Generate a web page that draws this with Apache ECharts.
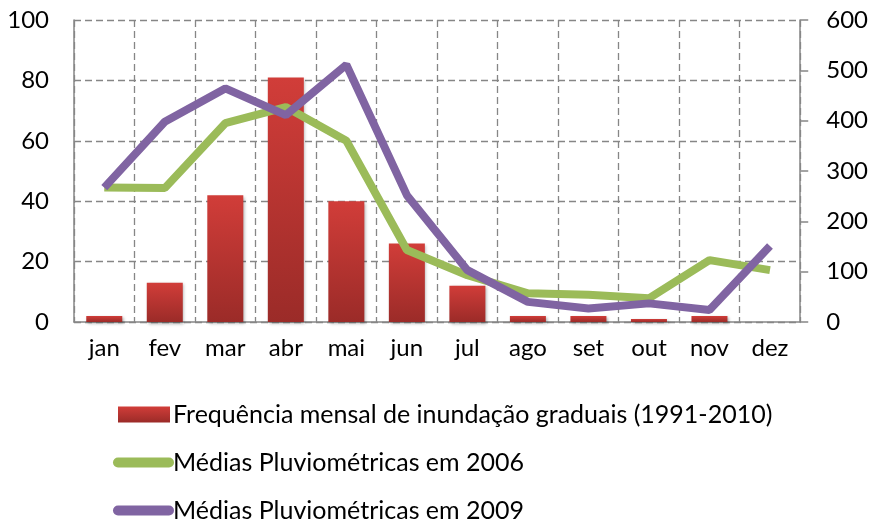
<!DOCTYPE html>
<html>
<head>
<meta charset="utf-8">
<style>
html, body { margin: 0; padding: 0; background: #fff; }
#main { width: 871px; height: 519px; }
</style>
<script src="https://cdn.jsdelivr.net/npm/echarts@6/dist/echarts.min.js"></script>
</head>
<body>
<div id="main"></div>
<script>
// dados
var meses = ['jan', 'fev', 'mar', 'abr', 'mai', 'jun', 'jul', 'ago', 'set', 'out', 'nov', 'dez'];
var frequencia = [2, 13, 42, 81, 40, 26, 12, 2, 2, 1, 2, 0];
var chuva2006 = [267, 266, 395, 427, 360, 143, 93, 57, 54, 47, 123, 103];
var chuva2009 = [267, 398, 464, 411, 511, 252, 103, 40, 27, 37, 24, 151];
var ticksEsq = [0, 20, 40, 60, 80, 100];
var ticksDir = [0, 100, 200, 300, 400, 500, 600];

var nomeBar = 'Frequência mensal de inundação graduais (1991-2010)';
var nome2006 = 'Médias Pluviométricas em 2006';
var nome2009 = 'Médias Pluviométricas em 2009';

var fonte = 'Lato, "Open Sans", sans-serif';
var cinza = '#868686';

var myChart = echarts.init(document.getElementById('main'));
myChart.setOption({
    animation: false,
    grid: { left: 74, right: 69, top: 20, bottom: 197 },
    legend: {
        orient: 'vertical',
        left: 113,
        top: 402,
        height: 150,
        padding: 0,
        itemWidth: 61,
        itemHeight: 16,
        itemGap: 23,
        textStyle: { fontFamily: fonte, fontSize: 25, lineHeight: 20, color: '#000', padding: [0, 0, 0, -6] },
        data: [
            { name: nomeBar, icon: 'path://M0,0M61,16M5,0H57V16H5Z' },
            { name: nome2006, icon: 'path://M0,0M61,16M5,3H56A5,5 0 0 1 56,13H5A5,5 0 0 1 5,3Z' },
            { name: nome2009, icon: 'path://M0,0M61,16M5,3H56A5,5 0 0 1 56,13H5A5,5 0 0 1 5,3Z' }
        ]
    },
    xAxis: {
        type: 'category',
        data: meses,
        axisLine: { lineStyle: { color: cinza, width: 1.5 } },
        axisTick: { show: false },
        axisLabel: { fontFamily: fonte, fontSize: 24, color: '#000', margin: 14 },
        splitLine: { show: true, interval: 0, lineStyle: { color: cinza, type: [7, 4], width: 1.3 } }
    },
    yAxis: [{
        type: 'value',
        min: ticksEsq[0],
        max: ticksEsq[ticksEsq.length - 1],
        interval: 20,
        axisLine: { show: true, lineStyle: { color: cinza, width: 1.5 } },
        axisTick: { show: false },
        axisLabel: { fontFamily: fonte, fontSize: 24, color: '#000', margin: 25 },
        splitLine: { lineStyle: { color: cinza, type: [7, 4], width: 1.3 } }
    }, {
        type: 'value',
        min: ticksDir[0],
        max: ticksDir[ticksDir.length - 1],
        interval: 100,
        position: 'right',
        axisLine: { show: true, lineStyle: { color: cinza, width: 1.5 } },
        axisTick: { show: true, length: 8, lineStyle: { color: cinza, width: 1.5 } },
        axisLabel: { fontFamily: fonte, fontSize: 24, color: '#000', margin: 26 },
        splitLine: { show: false }
    }],
    series: [{
        name: nomeBar,
        type: 'bar',
        data: frequencia,
        barWidth: 36,
        itemStyle: {
            color: new echarts.graphic.LinearGradient(0, 0, 0, 1, [
                { offset: 0, color: '#D13D39' },
                { offset: 1, color: '#9B2B28' }
            ]),
            shadowColor: 'rgba(0,0,0,0.3)',
            shadowBlur: 3,
            shadowOffsetX: 1.5,
            shadowOffsetY: 1.5
        }
    }, {
        name: nome2006,
        type: 'line',
        yAxisIndex: 1,
        data: chuva2006,
        symbol: 'none',
        color: '#9BBB59',
        lineStyle: { width: 8, color: '#9BBB59' }
    }, {
        name: nome2009,
        type: 'line',
        yAxisIndex: 1,
        data: chuva2009,
        symbol: 'none',
        color: '#8064A2',
        lineStyle: { width: 8, color: '#8064A2' }
    }]
});
</script>
</body>
</html>
